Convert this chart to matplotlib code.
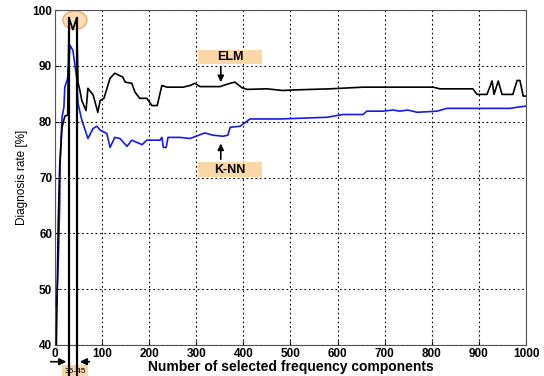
import numpy as np
import matplotlib.pyplot as plt
from matplotlib.patches import Ellipse, Rectangle

plt.rcParams['font.family'] = ['Liberation Sans', 'DejaVu Sans']

# ELM curve
elm_x = [3, 7, 10, 15, 21, 27, 30, 38, 46, 49, 53, 57, 66, 70, 81, 91, 96, 104, 117, 127,
         144, 149, 163, 170, 180, 195, 206, 217, 227, 238, 272, 287, 297, 308, 350, 372,
         382, 397, 408, 450, 484, 505, 584, 654, 732, 803, 817, 887, 896, 917, 928, 932,
         941, 949, 972, 981, 987, 994, 1000]
elm_y = [40, 62, 72, 79, 81, 81.2, 98.6, 96.5, 98.6, 87, 85.6, 83.8, 82, 86, 84.8, 81.7,
         83.8, 84.2, 87.8, 88.7, 88, 87.1, 86.9, 85.3, 84.2, 84.2, 82.9, 82.9, 86.5, 86.2,
         86.2, 86.5, 86.9, 86.3, 86.3, 86.9, 87.1, 86.1, 85.8, 85.9, 85.6, 85.7, 85.9, 86.2,
         86.2, 86.2, 85.9, 85.9, 84.9, 84.9, 87.3, 84.9, 87.3, 84.9, 84.9, 87.4, 87.4, 84.6,
         84.6]

# K-NN curve
knn_x = [3, 6, 7, 8, 10, 11, 15, 19, 21, 27, 32, 38, 46, 49, 57, 70, 81, 89, 96, 110, 117,
         127, 138, 153, 163, 174, 185, 195, 223, 227, 230, 236, 240, 265, 287, 318, 335, 357,
         367, 372, 393, 414, 478, 577, 611, 654, 662, 696, 718, 732, 749, 769, 811, 832, 966,
         981, 1000]
knn_y = [47, 52, 55, 58, 65, 72.5, 80.8, 82.6, 86.2, 87.8, 93.7, 92.8, 88, 83.3, 80.3, 77,
         78.8, 79.2, 78.5, 77.9, 75.4, 77.2, 77, 75.6, 76.7, 76.3, 75.9, 76.7, 76.7, 77.2,
         75.4, 75.4, 77.2, 77.2, 77, 78, 77.6, 77.4, 77.6, 79, 79.2, 80.5, 80.5, 80.8, 81.3,
         81.3, 81.9, 81.9, 82.1, 81.9, 82.1, 81.7, 81.9, 82.4, 82.4, 82.6, 82.8]

xticks = [0, 100, 200, 300, 400, 500, 600, 700, 800, 900, 1000]
yticks = [40, 50, 60, 70, 80, 90, 100]
band = [30, 47]

peach = '#fad7a6'

fig = plt.figure(figsize=(5.44, 3.76), dpi=100)
ax = fig.add_axes([0.101, 0.0825, 0.866, 0.8905])

ax.add_patch(Ellipse((42.5, 98.2), 51, 3.3, facecolor=peach, edgecolor='#e8a060',
                     lw=1, alpha=0.85, zorder=1))
ax.plot(knn_x, knn_y, color='#1a1ae6', lw=1.2, zorder=3)
ax.plot(elm_x, elm_y, color='black', lw=1.2, zorder=4)

for b in band:
    ax.plot([b, b], [98.6, 34], color='black', lw=1.6, clip_on=False, zorder=5)

ax.annotate('', xy=(band[0], 37.0), xytext=(-15, 37.0), annotation_clip=False,
            arrowprops=dict(arrowstyle='-|>', color='black', lw=1.2, mutation_scale=10))
ax.annotate('', xy=(band[1], 37.0), xytext=(79, 37.0), annotation_clip=False,
            arrowprops=dict(arrowstyle='-|>', color='black', lw=1.2, mutation_scale=10))
ax.text(42.5, 35.3, '35-45', ha='center', va='center', fontsize=6, clip_on=False,
        bbox=dict(boxstyle='square,pad=0.3', facecolor=peach, edgecolor='none'))

ax.add_patch(Rectangle((304, 90.3), 136, 2.6, facecolor=peach, edgecolor='none', zorder=2))
ax.text(372, 91.6, 'ELM', ha='center', va='center', fontsize=9, fontweight='bold', zorder=6)
ax.annotate('', xy=(352, 86.6), xytext=(352, 90.3),
            arrowprops=dict(arrowstyle='-|>', color='black', lw=1.2, mutation_scale=9))

ax.add_patch(Rectangle((304, 70.1), 136, 2.7, facecolor=peach, edgecolor='none', zorder=2))
ax.text(372, 71.4, 'K-NN', ha='center', va='center', fontsize=9, fontweight='bold', zorder=6)
ax.annotate('', xy=(352, 76.6), xytext=(352, 72.8),
            arrowprops=dict(arrowstyle='-|>', color='black', lw=1.2, mutation_scale=9))

ax.set_xlim(0, 1000)
ax.set_ylim(40, 100)
ax.set_xticks(xticks)
ax.set_yticks(yticks)
ax.grid(True, color='black', linestyle=(0, (1.5, 2.5)), lw=0.8)
ax.tick_params(direction='in', length=3, labelsize=8.5, pad=2)
for lab in ax.get_xticklabels() + ax.get_yticklabels():
    lab.set_fontweight('bold')
for s in ax.spines.values():
    s.set_color('#555555')
ax.set_xlabel('Number of selected frequency components', fontsize=10, fontweight='bold',
              labelpad=0)
ax.set_ylabel('Diagnosis rate [%]', fontsize=8.5, labelpad=3)

fig.savefig('out.png', dpi=100)
